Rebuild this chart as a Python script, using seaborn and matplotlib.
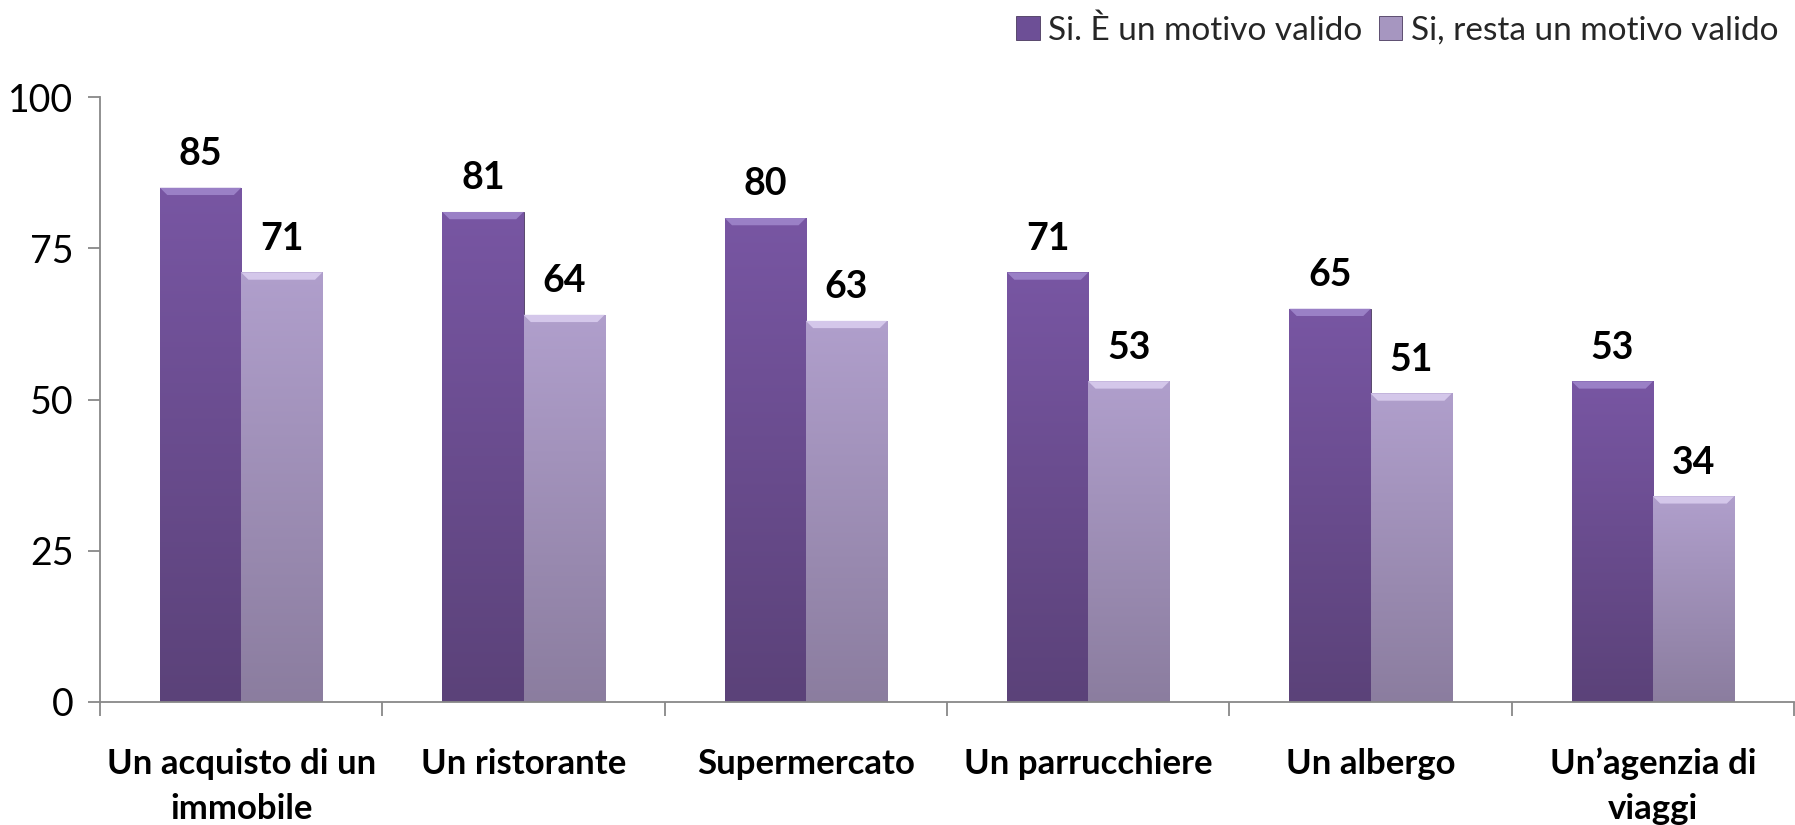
import numpy as np
import pandas as pd
import matplotlib
matplotlib.use("Agg")
import matplotlib.pyplot as plt
import matplotlib.colors as mcolors
from matplotlib.patches import Polygon
import seaborn as sns

categories = ["Un acquisto di un\nimmobile", "Un ristorante", "Supermercato",
              "Un parrucchiere", "Un albergo", "Un\u2019agenzia di\nviaggi"]
series_names = ["Si. \u00c8 un motivo valido", "Si, resta un motivo valido"]
serie1 = [85, 81, 80, 71, 65, 53]
serie2 = [71, 64, 63, 53, 51, 34]
yticks = [0, 25, 50, 75, 100]

df = pd.DataFrame({
    "cat": categories * 2,
    "serie": [series_names[0]] * len(categories) + [series_names[1]] * len(categories),
    "val": serie1 + serie2,
})

sns.set_theme(style="white")
plt.rcParams["font.family"] = ["Lato", "DejaVu Sans"]

base_cols = ["#6d4f96", "#a696c0"]
tops = ["#7856a3", "#b09fcc"]
bottoms = ["#5b4279", "#8b7d9f"]
hilite = ["#9a80c6", "#d4c7ea"]

fig = plt.figure(figsize=(17.95, 8.25), dpi=100)
ax = fig.add_axes([0.0557, 0.1491, 0.9438, 0.7333])

sns.barplot(data=df, x="cat", y="val", hue="serie", palette=base_cols,
            width=0.575, ax=ax, legend=True, saturation=1, edgecolor="#4a3a5e",
            linewidth=0.6)

ax.set_xlim(-0.5, len(categories) - 0.5)
ax.set_ylim(0, 100)

for ci, cont in enumerate(ax.containers):
    top = np.array(mcolors.to_rgb(tops[ci]))
    bot = np.array(mcolors.to_rgb(bottoms[ci]))
    t = np.linspace(0, 1, 256)[:, None]
    grad = (top[None, :] * (1 - t) + bot[None, :] * t)[:, None, :]
    for p in cont.patches:
        x0, y0 = p.get_x(), p.get_y()
        w, h = p.get_width(), p.get_height()
        im = ax.imshow(grad, extent=[x0, x0 + w, y0, y0 + h], aspect="auto",
                       origin="upper", zorder=p.get_zorder() + 0.1, interpolation="bilinear")
        im.set_clip_path(p)
        dx = w * 0.09
        dy = 1.2
        poly = Polygon([[x0, y0 + h], [x0 + w, y0 + h], [x0 + w - dx, y0 + h - dy],
                        [x0 + dx, y0 + h - dy]], closed=True, facecolor=hilite[ci],
                       edgecolor="none", zorder=p.get_zorder() + 0.2)
        ax.add_patch(poly)
    ax.bar_label(cont, labels=[f"{v:.0f}" for v in cont.datavalues], padding=12,
                 fontsize=27, fontweight="bold", color="black")

ax.set_xlim(-0.5, len(categories) - 0.5)
ax.set_ylim(0, 100)
ax.set_aspect("auto")

ax.set_xlabel("")
ax.set_ylabel("")
ax.set_yticks(yticks)
ax.set_yticklabels([str(v) for v in yticks])
ax.tick_params(axis="y", labelsize=27, length=9, width=1.3, color="#888888",
               pad=10, left=True, direction="out", labelcolor="black")
ax.set_xticks(range(len(categories)))
ax.set_xticklabels(categories, fontsize=25, fontweight="bold", linespacing=1.5)
ax.tick_params(axis="x", which="major", length=0, pad=33, labelcolor="black")
ax.set_xticks(np.arange(-0.5, len(categories), 1.0), minor=True)
ax.tick_params(axis="x", which="minor", length=10, width=1.3, color="#888888",
               direction="out", bottom=True)

for s in ["top", "right"]:
    ax.spines[s].set_visible(False)
for s in ["left", "bottom"]:
    ax.spines[s].set_color("#888888")
    ax.spines[s].set_linewidth(1.3)

leg = ax.get_legend()
handles = leg.legend_handles
leg.remove()
fig.legend(handles, series_names, loc="center right", bbox_to_anchor=(0.998, 0.963),
           ncol=2, frameon=False, fontsize=24, handlelength=0.7, handleheight=0.7,
           handletextpad=0.25, columnspacing=0.5, borderaxespad=0)

fig.savefig("out.png", dpi=100)
